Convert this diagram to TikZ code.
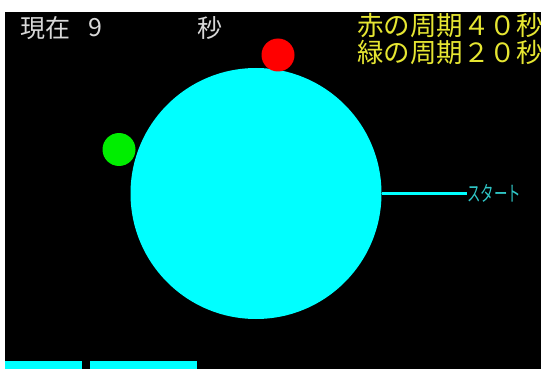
\documentclass[tikz,border=0pt]{standalone}
\usepackage{fontspec}
\newfontfamily\cjk{Noto Sans CJK JP}
\definecolor{cy}{HTML}{00FFFF}
\definecolor{yl}{HTML}{E6E632}
\definecolor{gr}{HTML}{D8D8D8}
\definecolor{tl}{HTML}{30C8C8}
\definecolor{gn}{HTML}{00EE00}
\begin{document}
\begin{tikzpicture}[x=1pt,y=-1pt,
  disc/.style={circle,inner sep=0pt,draw=none},
  wtxt/.style={inner sep=0pt,anchor=west,text=gr,font=\cjk\fontsize{25}{25}\selectfont},
  ytxt/.style={inner sep=0pt,anchor=west,text=yl,font=\cjk\fontsize{26.5}{26.5}\selectfont},
  bar/.style={fill=cy,draw=none}]
\useasboundingbox (0,0) rectangle (541,369);
\fill[white] (0,0) rectangle (541,369);
\fill[black] (5,12) rectangle (541,369);
\node[disc,fill=cy,minimum size=251pt] (big) at (256,193.5) {};
\node[disc,fill=red,minimum size=33pt] (red) at (278,55) {};
\node[disc,fill=gn,minimum size=33pt] (green) at (119,149.5) {};
\node[inner sep=0pt,anchor=west,text=tl,font=\cjk\fontsize{21}{21}\selectfont,xscale=0.64] (start) at (467,193.5) {スタート};
\draw[cy,line width=3pt] (big.east) -- (start.west);
\node[wtxt] (now) at (20,28) {現在};
\node[wtxt] (sec) at (88,28) {9};
\node[wtxt] (byo) at (197,28) {秒};
\node[ytxt] (r1) at (357,25.5) {赤の周期４０秒};
\node[ytxt] (r2) at (357,52.5) {緑の周期２０秒};
\fill[bar] (5,361) rectangle (82,369);
\fill[bar] (90,361) rectangle (197,369);
\end{tikzpicture}
\end{document}
